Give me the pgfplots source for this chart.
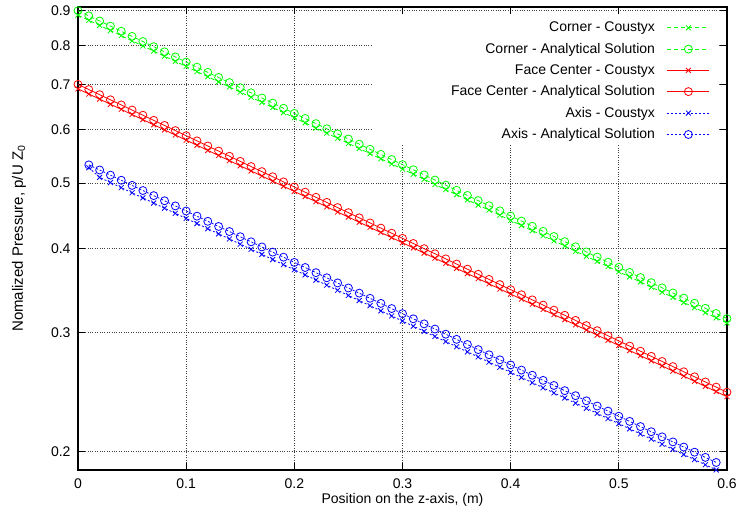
\documentclass[border=0pt]{standalone}
\usepackage{pgfplots}
\pgfplotsset{compat=1.18}
\usepackage{pgfplotstable}
\usepackage{fontspec}
\setmainfont{Liberation Sans}
\definecolor{gpgreen}{RGB}{0,255,0}
\definecolor{gpred}{RGB}{255,0,0}
\definecolor{gpblue}{RGB}{0,0,255}
\pgfplotstableread{
x ga gc ra rc ba bc
0.00 0.9000 0.8865 0.7000 0.6895 nan nan
0.01 0.8844 0.8711 0.6879 0.6775 0.5320 0.5270
0.02 0.8690 0.8560 0.6759 0.6658 0.5228 0.5097
0.03 0.8540 0.8412 0.6642 0.6542 0.5137 0.5009
0.04 0.8392 0.8266 0.6527 0.6429 0.5048 0.4922
0.05 0.8246 0.8122 0.6414 0.6317 0.4960 0.4837
0.06 0.8103 0.7981 0.6302 0.6208 0.4874 0.4753
0.07 0.7962 0.7843 0.6193 0.6100 0.4790 0.4670
0.08 0.7824 0.7707 0.6086 0.5994 0.4707 0.4589
0.09 0.7689 0.7573 0.5980 0.5890 0.4625 0.4510
0.10 0.7555 0.7442 0.5876 0.5788 0.4545 0.4432
0.11 0.7424 0.7313 0.5774 0.5688 0.4466 0.4355
0.12 0.7295 0.7186 0.5674 0.5589 0.4388 0.4279
0.13 0.7169 0.7061 0.5576 0.5492 0.4312 0.4205
0.14 0.7044 0.6939 0.5479 0.5397 0.4238 0.4132
0.15 0.6922 0.6818 0.5384 0.5303 0.4164 0.4060
0.16 0.6802 0.6700 0.5290 0.5211 0.4092 0.3990
0.17 0.6684 0.6584 0.5199 0.5121 0.4021 0.3921
0.18 0.6568 0.6470 0.5109 0.5032 0.3951 0.3853
0.19 0.6454 0.6357 0.5020 0.4945 0.3883 0.3786
0.20 0.6342 0.6247 0.4933 0.4859 0.3815 0.3720
0.21 0.6232 0.6139 0.4847 0.4775 0.3749 0.3656
0.22 0.6124 0.6032 0.4763 0.4692 0.3684 0.3592
0.23 0.6018 0.5928 0.4681 0.4610 0.3620 0.3530
0.24 0.5913 0.5825 0.4599 0.4530 0.3557 0.3469
0.25 0.5811 0.5724 0.4520 0.4452 0.3496 0.3408
0.26 0.5710 0.5624 0.4441 0.4375 0.3435 0.3349
0.27 0.5611 0.5527 0.4364 0.4299 0.3375 0.3291
0.28 0.5514 0.5431 0.4288 0.4224 0.3317 0.3234
0.29 0.5418 0.5337 0.4214 0.4151 0.3259 0.3178
0.30 0.5324 0.5244 0.4141 0.4079 0.3203 0.3123
0.31 0.5232 0.5153 0.4069 0.4008 0.3147 0.3069
0.32 0.5141 0.5064 0.3998 0.3938 0.3093 0.3015
0.33 0.5052 0.4976 0.3929 0.3870 0.3039 0.2963
0.34 0.4964 0.4890 0.3861 0.3803 0.2986 0.2912
0.35 0.4878 0.4805 0.3794 0.3737 0.2934 0.2861
0.36 0.4793 0.4721 0.3728 0.3672 0.2883 0.2812
0.37 0.4710 0.4639 0.3663 0.3609 0.2833 0.2763
0.38 0.4628 0.4559 0.3600 0.3546 0.2784 0.2715
0.39 0.4548 0.4480 0.3537 0.3484 0.2736 0.2668
0.40 0.4469 0.4402 0.3476 0.3424 0.2689 0.2621
0.41 0.4392 0.4326 0.3416 0.3365 0.2642 0.2576
0.42 0.4316 0.4251 0.3357 0.3306 0.2596 0.2531
0.43 0.4241 0.4177 0.3298 0.3249 0.2551 0.2487
0.44 0.4167 0.4105 0.3241 0.3192 0.2507 0.2444
0.45 0.4095 0.4033 0.3185 0.3137 0.2463 0.2402
0.46 0.4024 0.3963 0.3130 0.3083 0.2421 0.2360
0.47 0.3954 0.3895 0.3075 0.3029 0.2379 0.2319
0.48 0.3885 0.3827 0.3022 0.2977 0.2337 0.2279
0.49 0.3818 0.3761 0.2970 0.2925 0.2297 0.2239
0.50 0.3752 0.3695 0.2918 0.2874 0.2257 0.2201
0.51 0.3687 0.3631 0.2867 0.2824 0.2218 0.2162
0.52 0.3623 0.3568 0.2818 0.2775 0.2179 0.2125
0.53 0.3560 0.3506 0.2769 0.2727 0.2141 0.2088
0.54 0.3498 0.3446 0.2721 0.2680 0.2104 0.2052
0.55 0.3437 0.3386 0.2674 0.2633 0.2068 0.2016
0.56 0.3378 0.3327 0.2627 0.2588 0.2032 0.1981
0.57 0.3319 0.3269 0.2582 0.2543 0.1997 0.1947
0.58 0.3262 0.3213 0.2537 0.2499 0.1962 0.1913
0.59 0.3205 0.3157 0.2493 0.2455 0.1928 0.1880
0.60 0.3149 0.3102 0.2450 0.2413 nan nan
}\data
\begin{document}
\begin{tikzpicture}
\path[use as bounding box] (-78pt,-48pt) rectangle (661pt,470pt);
\begin{axis}[
  scale only axis,
  width=649pt, height=463pt,
  at={(0,0)}, anchor=south west,
  ymode=log,
  xmin=0, xmax=0.6,
  ymin=0.1879, ymax=0.9115,
  xtick={0,0.1,0.2,0.3,0.4,0.5,0.6},
  xticklabels={0,0.1,0.2,0.3,0.4,0.5,0.6},
  ytick={0.2,0.3,0.4,0.5,0.6,0.7,0.8,0.9},
  yticklabels={0.2,0.3,0.4,0.5,0.6,0.7,0.8,0.9},
  yminorticks=false,
  tick align=inside,
  xtick pos=both, ytick pos=both,
  major tick length=7pt,
  tick style={black, line width=0.9pt},
  axis line style={black, line width=1.2pt},
  grid=major,
  major grid style={black!75, line width=0.7pt, dash pattern=on 0.8pt off 1.6pt},
  font=\fontsize{14}{17}\selectfont,
  xticklabel style={yshift=-5pt},
  yticklabel style={xshift=-4pt},
  every axis y label/.style={at={(rel axis cs:0,0.5)}, xshift=-59pt, rotate=90, anchor=center, font=\fontsize{15}{18}\selectfont},
  every axis x label/.style={at={(rel axis cs:0.5,0)}, yshift=-30pt, anchor=center},
  xlabel={Position on the z-axis, (m)},
  ylabel={Nomalized Pressure, p/U Z\textsubscript{0}},
  legend plot pos=right,
  legend cell align=right,
  legend image code/.code={\draw[mark repeat=2,mark phase=2,#1] plot coordinates {(0pt,0pt) (21pt,0pt) (42pt,0pt)};},
  legend style={at={(1,1)}, anchor=north east, xshift=-17pt, yshift=-13pt, draw=none, fill=none, inner sep=0pt, column sep=10pt, row sep=5.8pt, font=\fontsize{14}{17}\selectfont},
  every axis plot/.append style={line width=0.8pt},
]
\fill[white] (axis cs:0.2718,0.569) rectangle (axis cs:0.5917,0.887);
\addplot[gpgreen, dash pattern=on 4pt off 3pt, mark=x, mark size=3.5pt, mark options={solid}] table[x=x, y=gc] {\data};
\addlegendentry{Corner - Coustyx}
\addplot[gpgreen, dash pattern=on 4pt off 3pt, mark=o, mark size=4pt, mark options={solid}] table[x=x, y=ga] {\data};
\addlegendentry{Corner - Analytical Solution}
\addplot[gpred, solid, mark=x, mark size=3.5pt] table[x=x, y=rc] {\data};
\addlegendentry{Face Center - Coustyx}
\addplot[gpred, solid, mark=o, mark size=4pt] table[x=x, y=ra] {\data};
\addlegendentry{Face Center - Analytical Solution}
\addplot[gpblue, dash pattern=on 2pt off 2pt, mark=x, mark size=3.5pt, mark options={solid}] table[x=x, y=bc] {\data};
\addlegendentry{Axis - Coustyx}
\addplot[gpblue, dash pattern=on 2pt off 2pt, mark=o, mark size=4pt, mark options={solid}] table[x=x, y=ba] {\data};
\addlegendentry{Axis - Analytical Solution}
\end{axis}
\end{tikzpicture}
\end{document}
